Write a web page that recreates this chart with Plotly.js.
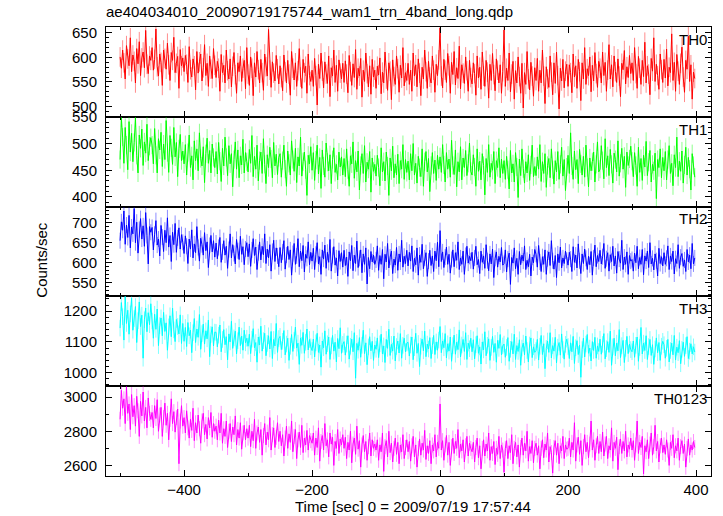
<!DOCTYPE html>
<html>
<head>
<meta charset="utf-8">
<script src="https://cdn.plot.ly/plotly-3.0.1.min.js"></script>
<style>html,body{margin:0;padding:0;background:#fff;}#chart{width:723px;height:516px;}</style>
</head>
<body>
<div id="chart"></div>
<script>
// Light curve data: 2-s bins starting at t = -500 s (time relative to 2009/07/19 17:57:44)
const T_START = -500;
const BIN_SEC = 2;
const PANEL_LABELS = ["TH0", "TH1", "TH2", "TH3", "TH0123"];

const TH0 = [
601,578,615,589,556,624,597,583,640,571,605,592,548,618,587,632,563,599,611,579,655,586,567,603,594,
620,574,596,658,581,562,607,590,543,615,598,576,629,585,553,610,594,641,569,588,602,537,616,583,599,
571,604,586,549,622,575,560,597,583,534,612,568,591,607,552,579,626,563,588,541,603,576,557,618,584,
559,592,578,531,606,569,584,548,615,573,556,597,540,582,610,565,527,589,571,603,551,578,594,536,620,
566,543,601,578,522,589,560,612,575,548,596,569,533,607,581,562,657,574,539,591,568,552,604,577,546,
583,559,532,605,571,548,594,566,523,612,578,554,589,541,573,618,560,537,596,569,582,527,607,563,551,
574,541,598,563,503,586,557,609,572,538,591,566,547,603,520,579,562,615,549,584,531,595,568,556,588,
549,593,566,528,604,571,543,587,559,616,535,578,562,598,519,574,551,609,567,540,583,525,596,560,574,
537,582,564,599,526,570,548,611,556,533,589,572,514,595,561,545,603,577,529,584,558,620,542,569,553,
588,545,574,531,609,562,585,540,597,568,522,580,556,615,571,537,592,560,548,603,574,529,586,563,595,
660,562,538,596,574,549,608,583,527,590,565,612,544,579,557,623,536,585,568,547,601,573,531,594,559,
546,589,567,523,603,558,580,535,611,562,541,594,570,517,586,553,608,565,532,597,574,548,585,527,571,
656,541,578,553,609,530,566,592,515,573,548,601,561,527,588,497,569,545,612,556,534,590,562,521,579,
553,598,531,574,548,615,562,506,581,556,539,603,570,524,589,547,611,563,495,578,552,596,538,572,586,
541,585,569,528,607,560,583,537,596,571,512,589,556,620,545,577,563,601,530,584,552,610,567,539,592,
578,548,611,563,590,531,574,626,556,585,540,603,571,549,597,562,520,588,575,614,546,581,559,604,567,
589,553,620,567,537,602,578,545,594,561,631,548,583,566,524,598,572,640,551,586,563,535,607,575,549,
596,558,617,542,580,569,648,553,590,531,606,572,545,588,621,560,529,594,576,643,551,585,515,570,557];

const TH1 = [
470,548,512,463,530,497,451,541,484,519,466,502,548,478,445,516,491,527,459,503,482,536,468,495,511,
497,462,528,478,445,509,488,521,457,499,470,543,483,446,515,492,461,530,475,502,438,490,517,468,486,
462,498,441,483,516,455,477,432,505,468,490,449,520,472,458,494,427,481,510,463,487,445,499,474,455,
485,443,502,467,429,491,458,512,474,440,496,462,481,419,470,503,452,488,436,477,460,508,445,483,466,
447,489,463,515,438,476,452,497,430,468,484,444,509,461,425,479,455,493,471,436,502,458,480,442,474,
481,437,468,497,452,420,486,463,441,505,470,448,491,427,475,458,512,439,466,484,451,403,478,462,494,
450,483,431,469,497,443,474,416,488,458,437,501,465,449,479,425,470,492,446,461,432,484,456,475,441,
472,438,490,451,420,477,462,503,435,468,447,486,413,459,481,444,496,428,465,452,485,409,473,448,461,
439,478,455,421,492,447,466,430,484,458,403,473,449,495,436,462,441,480,425,468,452,498,433,470,446,
467,432,481,449,500,441,463,426,476,455,438,490,420,466,485,447,472,410,459,483,444,469,431,478,452,
475,446,498,460,428,483,452,471,437,506,459,442,488,419,466,447,494,432,473,455,487,440,463,501,448,
441,479,456,420,490,448,467,432,481,459,404,472,446,498,437,463,450,485,425,468,455,492,436,471,444,
468,433,476,451,415,487,445,462,428,483,456,399,471,440,490,453,426,466,445,479,431,460,497,438,457,
440,475,452,498,429,466,444,481,418,459,472,436,490,451,424,468,447,485,433,461,493,439,470,412,456,
478,444,520,458,433,486,451,470,425,489,462,441,476,437,497,455,419,473,449,466,484,428,461,503,447,
452,496,468,434,509,455,477,440,489,461,426,482,470,447,505,439,463,491,452,476,418,484,459,471,495,
467,438,483,459,420,493,446,472,431,478,456,504,440,465,487,428,461,449,482,397,470,455,490,436,474,
449,485,432,470,496,444,463,421,479,455,512,438,467,448,486,426,460,493,441,474,452,413,481,459,437];

const TH2 = [
655,702,681,729,646,694,663,718,637,689,672,735,650,701,624,683,710,659,692,641,725,668,597,690,676,
688,632,671,705,644,659,617,693,664,628,681,650,712,639,668,603,676,645,698,626,662,687,634,670,651,
623,667,641,598,659,634,682,612,647,625,690,638,604,661,645,619,675,630,652,588,643,668,627,655,614,
649,610,638,663,601,627,655,619,641,586,633,672,612,645,623,597,658,630,608,666,621,640,595,634,650,
615,647,591,632,660,618,639,583,625,652,607,641,620,672,598,634,612,645,579,628,656,603,637,617,590,
638,600,627,655,584,619,641,608,632,569,623,648,596,617,660,590,629,605,643,577,621,611,652,595,626,
604,636,583,621,650,597,615,571,632,609,644,586,626,601,658,579,618,640,594,612,567,630,603,625,589,
631,593,614,566,627,605,643,580,619,598,654,588,611,632,575,622,596,637,547,613,585,628,602,619,596,
607,642,581,618,596,633,560,621,602,648,587,614,629,573,609,594,638,581,622,602,656,589,616,598,631,
592,626,604,642,578,611,595,637,569,619,601,646,585,612,625,566,604,631,593,617,578,629,605,651,590,
680,603,627,588,614,639,596,621,574,608,632,590,625,606,652,583,612,596,629,571,618,641,599,616,605,
626,584,612,641,595,608,573,629,601,617,586,645,605,580,622,597,634,563,611,627,589,616,602,638,594,
598,632,577,609,624,546,613,599,637,585,611,571,628,595,619,604,642,583,606,590,621,567,614,600,633,
621,589,643,602,578,615,596,632,571,610,627,593,655,605,584,618,563,622,600,639,587,612,598,629,606,
594,626,609,578,640,601,619,587,647,605,573,622,598,634,611,583,616,595,628,569,612,644,590,618,603,
631,597,615,648,586,610,625,579,620,603,641,592,617,574,628,609,599,656,583,614,596,627,571,618,604,
608,579,624,600,641,585,613,596,633,570,617,604,629,588,650,597,611,582,622,605,567,636,598,615,592,
625,596,611,642,583,617,603,629,572,610,598,645,586,614,623,591,607,578,633,602,619,585,648,597,612];

const TH3 = [
1145,1228,1182,1106,1250,1160,1203,1125,1191,1242,1138,1176,1215,1098,1169,1230,1150,1187,1047,1172,1210,1133,1195,1156,1224,
1168,1112,1190,1141,1207,1088,1153,1178,1120,1196,1134,1162,1073,1149,1185,1117,1210,1139,1101,1173,1150,1126,1188,1095,1160,
1102,1147,1085,1163,1120,1138,1065,1130,1176,1098,1142,1115,1189,1076,1127,1158,1093,1136,1110,1171,1052,1124,1149,1087,1132,
1131,1084,1122,1155,1068,1108,1140,1091,1117,1042,1126,1100,1167,1079,1113,1135,1061,1104,1148,1088,1119,1073,1138,1097,1112,
1086,1125,1062,1109,1143,1081,1098,1034,1116,1090,1151,1070,1104,1128,1055,1095,1120,1077,1134,1046,1108,1087,1160,1066,1111,
1118,1075,1102,1137,1058,1093,1112,1040,1086,1124,1069,1105,1148,1080,1096,1027,1113,1089,1131,1063,1099,1142,1074,1108,1084,
1072,1109,1051,1097,1128,1066,1090,1018,1103,1081,1136,1060,1094,1116,1043,1087,1121,1070,1099,1035,1111,1078,1146,1063,1092,
1101,1057,1093,1120,1044,1086,1109,1068,1130,982,1095,1073,1114,1050,1089,1138,1062,1097,1026,1084,1117,1071,1102,1040,1090,
1076,1113,1049,1094,1125,1061,1087,1033,1108,1079,1141,1056,1092,1070,1119,1038,1085,1103,1064,1127,1047,1089,1112,1068,1096,
1099,1054,1090,1116,1042,1081,1128,1063,1095,1020,1086,1109,1071,1135,1052,1093,1077,1114,1046,1088,1121,1059,1100,1073,1106,
1150,1065,1103,1081,1127,1048,1094,1070,1116,1037,1088,1122,1060,1099,1075,1139,1051,1090,1108,1069,1130,1043,1096,1078,1112,
1068,1107,1045,1091,1120,1063,1084,1028,1100,1074,1133,1055,1089,1110,1040,1082,1118,1066,1095,1034,1105,1079,1124,1058,1087,
1093,1050,1082,1114,1037,1076,1101,1061,1125,1043,1088,1069,1107,1024,1080,1096,1058,1119,1072,1035,1090,1113,1049,1084,1066,
1072,1108,1041,1086,1121,1059,1094,1013,1079,1103,1066,1130,1048,1088,1070,1115,1032,1083,1098,1057,1126,1075,1044,1092,1109,
1085,1046,1097,1068,1118,1030,1081,1104,1059,1090,985,1075,1112,1051,1093,1124,1063,1080,1038,1101,1072,1115,1047,1087,1069,
1109,1060,1092,1127,1045,1078,1101,1066,1135,1024,1084,1112,1055,1096,1071,1140,1049,1088,1105,1033,1079,1118,1062,1093,1075,
1068,1103,1050,1089,1116,1037,1082,1147,1061,1096,1072,1120,1043,1085,1108,1056,1091,1027,1077,1113,1065,1098,1040,1086,1102,
1091,1047,1079,1108,1035,1072,1096,1058,1121,1041,1083,1065,1104,1029,1076,1099,1053,1088,1117,1046,1070,1094,1061,1084,1067];

const TH0123 = [
2870,3040,2935,2990,2845,3060,2905,2960,2810,3015,2885,2950,2830,3005,2920,2770,2975,2890,3030,2860,2940,2820,2995,2905,2870,
2910,2820,2950,2875,2985,2800,2895,2940,2770,2880,2965,2835,2905,2750,2870,2990,2845,2915,2795,2880,2930,2610,2860,2950,2830,
2880,2790,2920,2820,2760,2870,2805,2935,2745,2850,2790,2895,2815,2730,2860,2905,2780,2840,2755,2880,2820,2910,2765,2845,2800,
2830,2750,2865,2790,2905,2730,2815,2770,2860,2705,2800,2845,2740,2825,2780,2890,2720,2810,2760,2850,2695,2790,2835,2750,2815,
2760,2835,2710,2800,2745,2870,2700,2790,2825,2735,2810,2660,2775,2845,2720,2795,2750,2880,2690,2780,2820,2705,2765,2850,2740,
2800,2715,2780,2655,2760,2830,2700,2785,2735,2860,2680,2770,2810,2640,2750,2795,2705,2835,2675,2760,2720,2805,2690,2775,2745,
2730,2790,2660,2760,2705,2820,2625,2740,2775,2690,2845,2715,2750,2650,2790,2725,2765,2600,2740,2700,2810,2670,2755,2720,2780,
2700,2765,2640,2735,2690,2800,2615,2725,2760,2665,2830,2695,2745,2590,2720,2775,2680,2740,2630,2710,2790,2655,2750,2700,2725,
2690,2750,2630,2720,2680,2790,2565,2710,2745,2650,2800,2675,2730,2620,2700,2760,2665,2735,2610,2720,2680,2780,2640,2705,2750,
2680,2740,2625,2715,2770,2650,2720,2590,2700,2755,2660,2730,2690,2805,2635,2715,2670,2745,2610,2720,2685,2780,2650,2735,2700,
2960,2690,2745,2630,2720,2775,2660,2735,2600,2710,2760,2670,2740,2700,2810,2645,2725,2685,2750,2620,2715,2770,2655,2730,2700,
2680,2735,2620,2705,2760,2645,2715,2580,2700,2750,2655,2725,2685,2790,2630,2710,2670,2740,2605,2700,2665,2770,2640,2720,2690,
2560,2700,2745,2640,2715,2675,2780,2610,2700,2735,2650,2720,2590,2705,2760,2660,2730,2685,2800,2625,2710,2670,2745,2615,2700,
2730,2660,2715,2580,2700,2750,2645,2725,2690,2790,2620,2710,2675,2555,2705,2745,2660,2730,2610,2715,2685,2770,2640,2720,2695,
2700,2760,2650,2735,2690,2850,2625,2720,2765,2665,2745,2600,2710,2780,2680,2735,2645,2725,2860,2690,2750,2630,2715,2770,2670,
2740,2680,2795,2655,2725,2770,2640,2715,2690,2820,2625,2735,2700,2765,2575,2710,2755,2670,2740,2685,2800,2650,2720,2695,2760,
2690,2745,2630,2720,2860,2670,2735,2705,2770,2550,2715,2680,2750,2640,2725,2790,2660,2710,2835,2685,2740,2620,2715,2760,2675,
2720,2665,2750,2690,2600,2735,2700,2780,2645,2715,2685,2760,2630,2710,2745,2670,2725,2590,2700,2755,2660,2720,2690,2740,2705];

// typical 1-sigma statistical error of each band (counts/sec)
const ERRORS = [20, 17, 20, 27, 44];

const SERIES = [TH0, TH1, TH2, TH3, TH0123];
const COLORS = ["#ff0000", "#00ff00", "#0000ff", "#00ffff", "#ff00ff"];
const ERR_COLORS = ["rgba(255,0,0,0.45)", "rgba(0,255,0,0.45)", "rgba(0,0,255,0.45)", "rgba(0,255,255,0.5)", "rgba(255,0,255,0.45)"];
const Y_RANGES = [[479, 662], [382, 550], [516, 740], [956, 1248], [2538, 3064]];
const Y_DTICK = [50, 50, 50, 100, 200];
const Y_MINOR = [10, 10, 10, 20, 100];

const time = TH0.map((_, i) => T_START + i * BIN_SEC);
const FONT = "Liberation Sans, Arial, Helvetica, sans-serif";

const traces = [];
const layout = {
  width: 723, height: 516,
  margin: {l: 106, r: 12, t: 27, b: 40},
  paper_bgcolor: "#ffffff", plot_bgcolor: "#ffffff",
  showlegend: false,
  font: {family: FONT, size: 15, color: "#000"},
  title: {text: "ae404034010_20090719175744_wam1_trn_4band_long.qdp",
          x: 106/723, xanchor: "left", xref: "container",
          y: 1 - 12/516, yanchor: "middle", yref: "container",
          font: {family: FONT, size: 15, color: "#000"}},
  annotations: []
};

const n = SERIES.length;
for (let k = 0; k < n; k++) {
  const idx = k + 1;
  const xs = idx === 1 ? "x" : "x" + idx;
  const ys = idx === 1 ? "y" : "y" + idx;
  traces.push({
    x: time, y: SERIES[k], type: "scatter", mode: "lines",
    xaxis: xs, yaxis: ys,
    line: {color: COLORS[k], width: 1},
    error_y: {type: "constant", value: ERRORS[k], color: ERR_COLORS[k], thickness: 1, width: 0},
    hoverinfo: "skip"
  });
  const top = 1 - k / n, bot = 1 - (k + 1) / n;
  const xa = {
    domain: [0, 1], anchor: ys, range: [-522, 423.4],
    tick0: 0, dtick: 200, ticks: "inside", ticklen: 6, tickwidth: 1, tickcolor: "#000",
    minor: {dtick: 100, ticks: "inside", ticklen: 3, tickwidth: 1, tickcolor: "#000"},
    showline: true, linecolor: "#000", linewidth: 1, mirror: "ticks",
    showgrid: false, zeroline: false,
    showticklabels: k === n - 1,
    tickfont: {family: FONT, size: 15, color: "#000"}
  };
  if (idx !== 1) xa.matches = "x";
  layout["xaxis" + (idx === 1 ? "" : idx)] = xa;
  layout["yaxis" + (idx === 1 ? "" : idx)] = {
    domain: [bot, top], anchor: xs, range: Y_RANGES[k],
    tick0: 0, dtick: Y_DTICK[k], ticks: "inside", ticklen: 6, tickwidth: 1, tickcolor: "#000",
    minor: {dtick: Y_MINOR[k], ticks: "inside", ticklen: 3, tickwidth: 1, tickcolor: "#000"},
    showline: true, linecolor: "#000", linewidth: 1, mirror: "ticks",
    showgrid: false, zeroline: false, ticklabelstandoff: 5,
    tickfont: {family: FONT, size: 15, color: "#000"}
  };
  layout.annotations.push({
    text: PANEL_LABELS[k], xref: "paper", yref: "paper",
    x: 0.997, xanchor: "right", y: top - 0.004, yanchor: "top",
    showarrow: false, font: {family: FONT, size: 15, color: "#000"}
  });
}
layout.annotations.push({
  text: "Counts/sec", xref: "paper", yref: "paper", textangle: -90,
  x: (40.7 - 106) / 605, xanchor: "center", y: 1 - (260 - 27) / 449, yanchor: "middle",
  showarrow: false, font: {family: FONT, size: 15, color: "#000"}
});
layout.annotations.push({
  text: "Time [sec] 0 = 2009/07/19 17:57:44", xref: "paper", yref: "paper",
  x: (413 - 106) / 605, xanchor: "center", y: -(506.5 - 476) / 449, yanchor: "middle",
  showarrow: false, font: {family: FONT, size: 15, color: "#000"}
});

Plotly.newPlot("chart", traces, layout, {displayModeBar: false, staticPlot: true});
</script>
</body>
</html>
